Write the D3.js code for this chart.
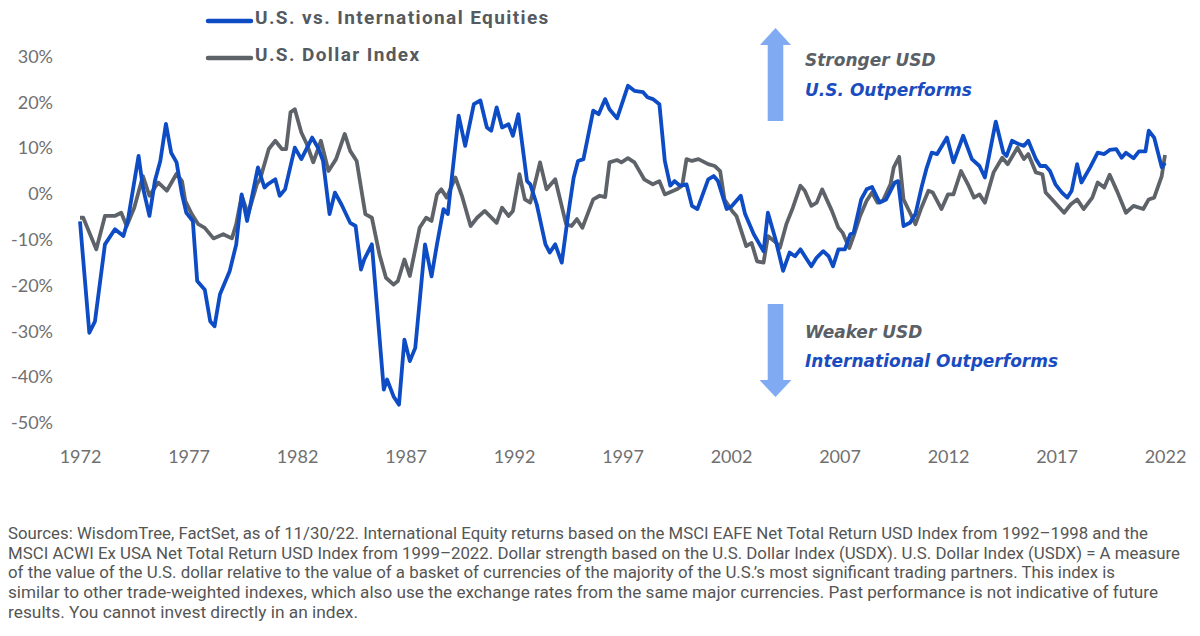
<!DOCTYPE html>
<html>
<head>
<meta charset="utf-8">
<script src="https://cdn.jsdelivr.net/npm/d3@7"></script>
<style>
  html, body { margin: 0; padding: 0; background: #fff; }
  svg { display: block; }
</style>
</head>
<body>
<svg width="1200" height="636"></svg>
<script>
// U.S. vs. International Equities, relative return (%), [year, value]
const usVsIntl = [
  [1972.0, -6], [1972.43, -30.3], [1972.69, -27.8], [1973.15, -11.0], [1973.61, -7.7],
  [1974.0, -9.2], [1974.2, -5.9], [1974.7, 8.3], [1974.9, 1.4], [1975.2, -4.8],
  [1975.45, 2.8], [1975.7, 7.2], [1975.96, 15.3], [1976.2, 9.0], [1976.45, 6.9],
  [1976.7, -0.1], [1976.9, -4.1], [1977.2, -5.9], [1977.4, -19.0], [1977.75, -20.9],
  [1978.0, -27.8], [1978.2, -28.9], [1978.45, -21.9], [1978.9, -16.8], [1979.2, -11.0],
  [1979.45, -0.1], [1979.7, -5.9], [1980.2, 5.8], [1980.5, 1.4], [1980.65, 2.1],
  [1981.0, 3.2], [1981.2, -0.4], [1981.45, 1.0], [1981.9, 10.1], [1982.2, 7.6],
  [1982.7, 12.3], [1983.0, 9.8], [1983.2, 7.2], [1983.5, -4.4], [1983.75, 0.3],
  [1984.05, -2.3], [1984.45, -6.3], [1984.7, -7.0], [1984.95, -16.5], [1985.1, -14.3],
  [1985.45, -11.0], [1986.0, -42.7], [1986.15, -40.5], [1986.45, -44.2], [1986.7, -46.0],
  [1986.95, -31.8], [1987.2, -36.5], [1987.45, -33.6], [1987.9, -11.0], [1988.2, -18.0],
  [1988.45, -11.0], [1988.75, -3.3], [1988.95, -4.4], [1989.45, 17.1], [1989.75, 10.5],
  [1990.15, 19.6], [1990.45, 20.4], [1990.75, 14.5], [1990.95, 13.8], [1991.2, 18.9],
  [1991.45, 14.5], [1991.75, 15.2], [1991.95, 12.7], [1992.2, 17.4], [1992.6, 2.8],
  [1992.75, 2.1], [1993.05, -2.3], [1993.45, -11.0], [1993.65, -12.8], [1993.9, -11.0],
  [1994.2, -15.0], [1994.5, -4.4], [1994.75, 3.6], [1994.95, 7.2], [1995.2, 7.6],
  [1995.65, 18.2], [1995.9, 17.4], [1996.2, 20.7], [1996.4, 18.5], [1996.75, 16.5],
  [1997.25, 23.6], [1997.55, 22.5], [1997.95, 22.2], [1998.15, 21.1], [1998.4, 20.7],
  [1998.7, 19.6], [1998.95, 7.2], [1999.2, 1.8], [1999.4, 2.8], [1999.65, 1.8],
  [1999.95, 2.1], [2000.2, -2.6], [2000.45, -3.3], [2000.95, 3.2], [2001.2, 3.9],
  [2001.4, 2.8], [2001.8, -3.3], [2002.05, -2.6], [2002.45, -0.4], [2002.65, -4.4],
  [2003.05, -8.8], [2003.5, -12.5], [2003.7, -4.1], [2004.05, -9.9], [2004.4, -16.8],
  [2004.7, -12.8], [2004.95, -13.6], [2005.2, -12.1], [2005.7, -15.8], [2005.95, -13.9],
  [2006.25, -12.5], [2006.5, -13.6], [2006.7, -15.8], [2006.95, -12.1], [2007.25, -12.1],
  [2007.5, -8.8], [2007.65, -8.5], [2008.0, -1.2], [2008.25, 1.0], [2008.5, 1.5],
  [2008.85, -1.9], [2009.15, -1.2], [2009.55, 2.5], [2009.7, 2.8], [2009.95, -7.0],
  [2010.25, -6.3], [2010.5, -4.4], [2010.8, 1.8], [2011.0, 5.4], [2011.25, 9.0],
  [2011.5, 8.7], [2011.95, 12.3], [2012.25, 6.9], [2012.7, 12.7], [2013.1, 7.6],
  [2013.45, 6.1], [2013.7, 3.6], [2014.2, 15.8], [2014.55, 9.0], [2014.7, 8.3],
  [2014.95, 11.6], [2015.25, 10.9], [2015.5, 10.5], [2015.7, 11.6], [2016.05, 7.6],
  [2016.25, 6.1], [2016.5, 6.1], [2016.7, 5.0], [2016.95, 2.1], [2017.25, 0.3],
  [2017.5, -0.8], [2017.7, 0.7], [2017.95, 6.5], [2018.15, 2.5], [2018.55, 5.8],
  [2018.9, 9.0], [2019.2, 8.7], [2019.45, 9.6], [2019.75, 9.8], [2020.0, 7.9],
  [2020.2, 9.0], [2020.55, 7.8], [2020.8, 9.3], [2021.1, 9.3], [2021.25, 13.8],
  [2021.5, 12.3], [2021.85, 5.8], [2022.0, 6.8]
];

// U.S. Dollar Index, change (%), [year, value]
const dollarIndex = [
  [1972.0, -5.2], [1972.15, -5.2], [1972.75, -12.1], [1973.15, -4.8], [1973.6, -4.8],
  [1973.9, -4.1], [1974.15, -7.0], [1974.5, -3.0], [1974.9, 3.9], [1975.2, -0.4],
  [1975.6, 2.5], [1976.0, 0.7], [1976.45, 4.4], [1976.7, 2.8], [1976.85, -1.5],
  [1977.15, -4.4], [1977.45, -6.6], [1977.75, -7.4], [1978.15, -9.7], [1978.6, -8.8],
  [1979.0, -9.7], [1979.2, -6.6], [1979.45, -0.4], [1979.75, -4.4], [1980.15, 2.1],
  [1980.3, 3.2], [1980.7, 9.8], [1981.0, 11.6], [1981.3, 9.8], [1981.5, 9.8],
  [1981.7, 17.8], [1981.9, 18.5], [1982.2, 13.4], [1982.45, 10.9], [1982.75, 6.9],
  [1983.1, 11.6], [1983.45, 5.0], [1983.8, 7.6], [1984.2, 13.1], [1984.45, 9.4],
  [1984.75, 7.2], [1985.15, -4.4], [1985.45, -5.2], [1985.8, -13.2], [1986.1, -18.3],
  [1986.45, -19.8], [1986.65, -19.0], [1986.95, -14.3], [1987.2, -17.9], [1987.65, -7.4],
  [1987.95, -5.2], [1988.2, -5.9], [1988.45, -0.1], [1988.65, 1.0], [1988.9, -0.8],
  [1989.3, 3.6], [1989.6, -0.4], [1990.0, -7.0], [1990.3, -5.2], [1990.65, -3.7],
  [1991.2, -6.3], [1991.45, -3.0], [1991.75, -4.8], [1991.95, -3.7], [1992.25, 4.3],
  [1992.5, -1.2], [1992.75, -1.9], [1993.2, 6.9], [1993.5, 1.0], [1993.9, 3.2],
  [1994.4, -6.6], [1994.65, -7.0], [1994.9, -5.5], [1995.15, -7.4], [1995.65, -1.2],
  [1995.95, -0.4], [1996.2, -0.7], [1996.4, 6.9], [1996.75, 7.4], [1996.95, 6.9],
  [1997.25, 7.8], [1997.55, 6.9], [1998.0, 3.2], [1998.4, 2.1], [1998.7, 2.8],
  [1998.95, -0.1], [1999.5, 1.0], [1999.75, 1.8], [1999.95, 7.6], [2000.2, 7.2],
  [2000.5, 7.6], [2000.95, 6.5], [2001.25, 6.1], [2001.5, 5.0], [2001.7, -1.2],
  [2002.05, -3.7], [2002.25, -4.8], [2002.7, -11.4], [2002.95, -10.7], [2003.2, -14.7],
  [2003.5, -15.0], [2003.7, -9.2], [2004.1, -10.7], [2004.25, -11.8], [2004.55, -6.6],
  [2004.85, -3.0], [2005.2, 1.8], [2005.4, 0.7], [2005.7, -2.6], [2005.95, -1.9],
  [2006.2, 1.0], [2006.65, -3.7], [2006.95, -7.4], [2007.15, -8.5], [2007.45, -11.8],
  [2007.65, -9.2], [2007.95, -4.8], [2008.25, -1.5], [2008.5, 0.3], [2008.75, -1.9],
  [2009.0, -1.5], [2009.35, 2.1], [2009.5, 5.8], [2009.75, 8.1], [2009.95, -1.2],
  [2010.25, -4.1], [2010.5, -6.6], [2010.75, -3.3], [2011.1, 0.7], [2011.3, 0.3],
  [2011.7, -3.3], [2012.0, -0.1], [2012.25, -0.1], [2012.6, 5.0], [2012.95, 1.8],
  [2013.2, -0.8], [2013.45, -0.1], [2013.7, -1.9], [2014.1, 4.7], [2014.5, 7.9],
  [2014.75, 6.5], [2015.2, 10.1], [2015.5, 7.6], [2015.7, 8.7], [2016.05, 4.7],
  [2016.35, 4.3], [2016.5, 0.3], [2016.8, -1.2], [2017.35, -4.1], [2017.65, -2.3],
  [2017.95, -1.2], [2018.25, -3.3], [2018.65, -0.8], [2018.9, 2.5], [2019.2, 1.4],
  [2019.45, 4.2], [2019.8, 0.5], [2020.2, -4.1], [2020.55, -2.6], [2021.0, -3.3],
  [2021.25, -1.2], [2021.5, -0.8], [2021.85, 3.9], [2022.0, 8.5]
];

const yearTicks = [1972, 1977, 1982, 1987, 1992, 1997, 2002, 2007, 2012, 2017, 2022];
const pctTicks = [-50, -40, -30, -20, -10, 0, 10, 20, 30];

const seriesNames = ['U.S. vs. International Equities', 'U.S. Dollar Index'];
const seriesColours = ['#0d4cc4', '#5e6369'];

const footnoteLines = [
  'Sources: WisdomTree, FactSet, as of 11/30/22. International Equity returns based on the MSCI EAFE Net Total Return USD Index from 1992\u20131998 and the',
  'MSCI ACWI Ex USA Net Total Return USD Index from 1999\u20132022. Dollar strength based on the U.S. Dollar Index (USDX). U.S. Dollar Index (USDX) = A measure',
  'of the value of the U.S. dollar relative to the value of a basket of currencies of the majority of the U.S.\u2019s most significant trading partners. This index is',
  'similar to other trade-weighted indexes, which also use the exchange rates from the same major currencies. Past performance is not indicative of future',
  'results. You cannot invest directly in an index.'
];
const footnoteWidths = [1140, 1172, 1107, 1150, 350];

const svg = d3.select('svg');

const x = d3.scaleLinear().domain([1972, 2022]).range([80, 1165]);
const y = d3.scaleLinear().domain([-50, 30]).range([423, 56.5]);

// axes, labels only
const tickFont = 'Lato, "Open Sans", sans-serif';

svg.append('g')
    .attr('transform', 'translate(53,0)')
    .call(d3.axisLeft(y).tickValues(pctTicks).tickSize(0).tickPadding(0).tickFormat(d => d + '%'))
    .call(g => g.select('.domain').remove())
    .selectAll('text')
    .attr('font-family', tickFont)
    .attr('font-size', 18)
    .attr('fill', '#707070');

svg.append('g')
    .attr('transform', 'translate(0,450)')
    .call(d3.axisBottom(x).tickValues(yearTicks).tickSize(0).tickPadding(0).tickFormat(d3.format('d')))
    .call(g => g.select('.domain').remove())
    .selectAll('text')
    .attr('font-family', tickFont)
    .attr('font-size', 18)
    .attr('fill', '#707070');

// lines
const line = d3.line()
    .x(d => x(d[0]))
    .y(d => y(d[1]));

svg.append('path')
    .datum(dollarIndex)
    .attr('d', line)
    .attr('fill', 'none')
    .attr('stroke', seriesColours[1])
    .attr('stroke-width', 3.8)
    .attr('stroke-linejoin', 'round');

svg.append('path')
    .datum(usVsIntl)
    .attr('d', line)
    .attr('fill', 'none')
    .attr('stroke', seriesColours[0])
    .attr('stroke-width', 3.8)
    .attr('stroke-linejoin', 'round');

// legend
const legend = svg.append('g');
seriesNames.forEach((name, i) => {
  const ly = i === 0 ? 21 : 58;
  legend.append('line')
      .attr('x1', 208).attr('x2', 251)
      .attr('y1', ly).attr('y2', ly)
      .attr('stroke', seriesColours[i])
      .attr('stroke-width', 4.5)
      .attr('stroke-linecap', 'round');
  legend.append('text')
      .attr('x', 255)
      .attr('y', ly - 2)
      .attr('dominant-baseline', 'middle')
      .attr('font-family', 'Roboto, sans-serif')
      .attr('font-weight', 'bold')
      .attr('font-size', 19)
      .attr('letter-spacing', 1.4)
      .attr('fill', '#555a60')
      .text(name);
});

// arrows
const arrowFill = '#80abf3';
svg.append('path')
    .attr('d', 'M775.5,28 L791,45 L783.3,45 L783.3,121 L767.7,121 L767.7,45 L760,45 Z')
    .attr('fill', arrowFill);
svg.append('path')
    .attr('d', 'M775.5,397 L791.5,380 L783.3,380 L783.3,304 L767.7,304 L767.7,380 L759.5,380 Z')
    .attr('fill', arrowFill);

const noteFont = '"DejaVu Sans", Verdana, sans-serif';
const notes = [
  { text: 'Stronger USD', y: 61, fill: '#5b5f66' },
  { text: 'U.S. Outperforms', y: 91, fill: '#1a4cc0' },
  { text: 'Weaker USD', y: 333, fill: '#5b5f66' },
  { text: 'International Outperforms', y: 362, fill: '#1a4cc0' }
];
svg.selectAll('text.note')
  .data(notes)
  .join('text')
    .attr('class', 'note')
    .attr('x', 805)
    .attr('y', d => d.y)
    .attr('dominant-baseline', 'middle')
    .attr('font-family', noteFont)
    .attr('font-style', 'italic')
    .attr('font-weight', 'bold')
    .attr('font-size', 17)
    .attr('fill', d => d.fill)
    .text(d => d.text);

// footnote
svg.selectAll('text.foot')
  .data(footnoteLines)
  .join('text')
    .attr('class', 'foot')
    .attr('x', 8)
    .attr('y', (d, i) => 539 + i * 19.7)
    .attr('font-family', 'Roboto, sans-serif')
    .attr('font-size', 16.5)
    .attr('fill', '#555')
    .attr('textLength', (d, i) => footnoteWidths[i])
    .attr('lengthAdjust', 'spacingAndGlyphs')
    .text(d => d);
</script>
</body>
</html>
